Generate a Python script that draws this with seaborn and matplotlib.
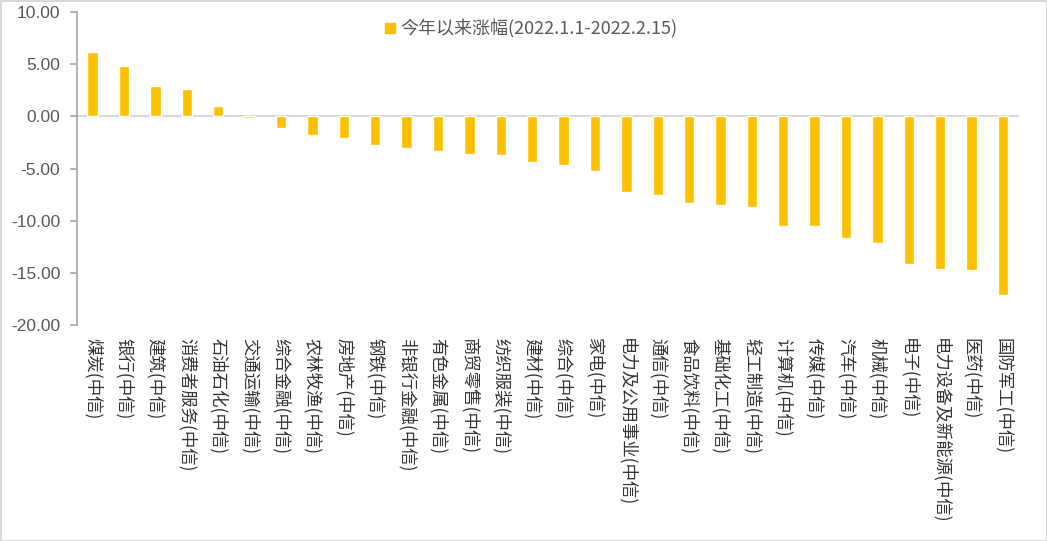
import matplotlib
matplotlib.use("Agg")
import matplotlib.pyplot as plt
import seaborn as sns
import pandas as pd
from matplotlib.lines import Line2D

categories = ["煤炭(中信)", "银行(中信)", "建筑(中信)", "消费者服务(中信)", "石油石化(中信)",
              "交通运输(中信)", "综合金融(中信)", "农林牧渔(中信)", "房地产(中信)", "钢铁(中信)",
              "非银行金融(中信)", "有色金属(中信)", "商贸零售(中信)", "纺织服装(中信)", "建材(中信)",
              "综合(中信)", "家电(中信)", "电力及公用事业(中信)", "通信(中信)", "食品饮料(中信)",
              "基础化工(中信)", "轻工制造(中信)", "计算机(中信)", "传媒(中信)", "汽车(中信)",
              "机械(中信)", "电子(中信)", "电力设备及新能源(中信)", "医药(中信)", "国防军工(中信)"]
values = [6.19, 4.84, 2.92, 2.63, 0.99,
          -0.20, -1.12, -1.79, -2.08, -2.76,
          -3.04, -3.33, -3.62, -3.72, -4.39,
          -4.68, -5.26, -7.28, -7.56, -8.33,
          -8.53, -8.72, -10.54, -10.54, -11.70,
          -12.18, -14.10, -14.58, -14.68, -17.08]
series_label = "今年以来涨幅(2022.1.1-2022.2.15)"
yticks = [10, 5, 0, -5, -10, -15, -20]

sns.set_theme(style="white")
plt.rcParams['font.family'] = ['Noto Sans CJK SC', 'DejaVu Sans']

df = pd.DataFrame({"industry": categories, "value": values})

fig = plt.figure(figsize=(10.47, 5.41), dpi=100, facecolor="white",
                 edgecolor="#d9d9d9", linewidth=2)
ax = fig.add_axes([0.0735, 0.399, 0.8995, 0.579])
sns.barplot(data=df, x="industry", y="value", color="#FFC000", saturation=1,
            width=0.33, ax=ax)

ax.set_ylim(-20, 10)
ax.set_xlim(-0.5, len(categories) - 0.5)
ax.set_yticks(yticks)
ax.set_yticklabels([f"{t:.2f}" for t in yticks], fontsize=12.5, color="#595959",
                   family=['Liberation Sans', 'DejaVu Sans'])
ax.axhline(0, color="#d9d9d9", linewidth=1.5, zorder=0)

for s in ["top", "right", "bottom"]:
    ax.spines[s].set_visible(False)
ax.spines["left"].set_color("#a6a6a6")
ax.spines["left"].set_linewidth(1.2)
ax.tick_params(axis="y", which="both", left=True, length=5, width=1.2,
               color="#a6a6a6", direction="out", pad=7)
ax.tick_params(axis="x", bottom=False, pad=3)
ax.set_xlabel("")
ax.set_ylabel("")
ax.set_xticks(range(len(categories)))
ax.set_xticklabels(categories, rotation=-90, ha="center", va="top",
                   fontsize=12.5, color="#333333")

handle = Line2D([], [], marker="s", linestyle="none", markersize=7,
                markerfacecolor="#FFC000", markeredgecolor="#FFC000")
leg = ax.legend([handle], [series_label], loc="center", bbox_to_anchor=(0.48, 0.945),
                frameon=False, fontsize=13, handletextpad=0.1, handlelength=1.0,
                borderaxespad=0)
for t in leg.get_texts():
    t.set_color("#595959")

fig.savefig("out.png", dpi=100, facecolor="white", edgecolor=fig.get_edgecolor())
